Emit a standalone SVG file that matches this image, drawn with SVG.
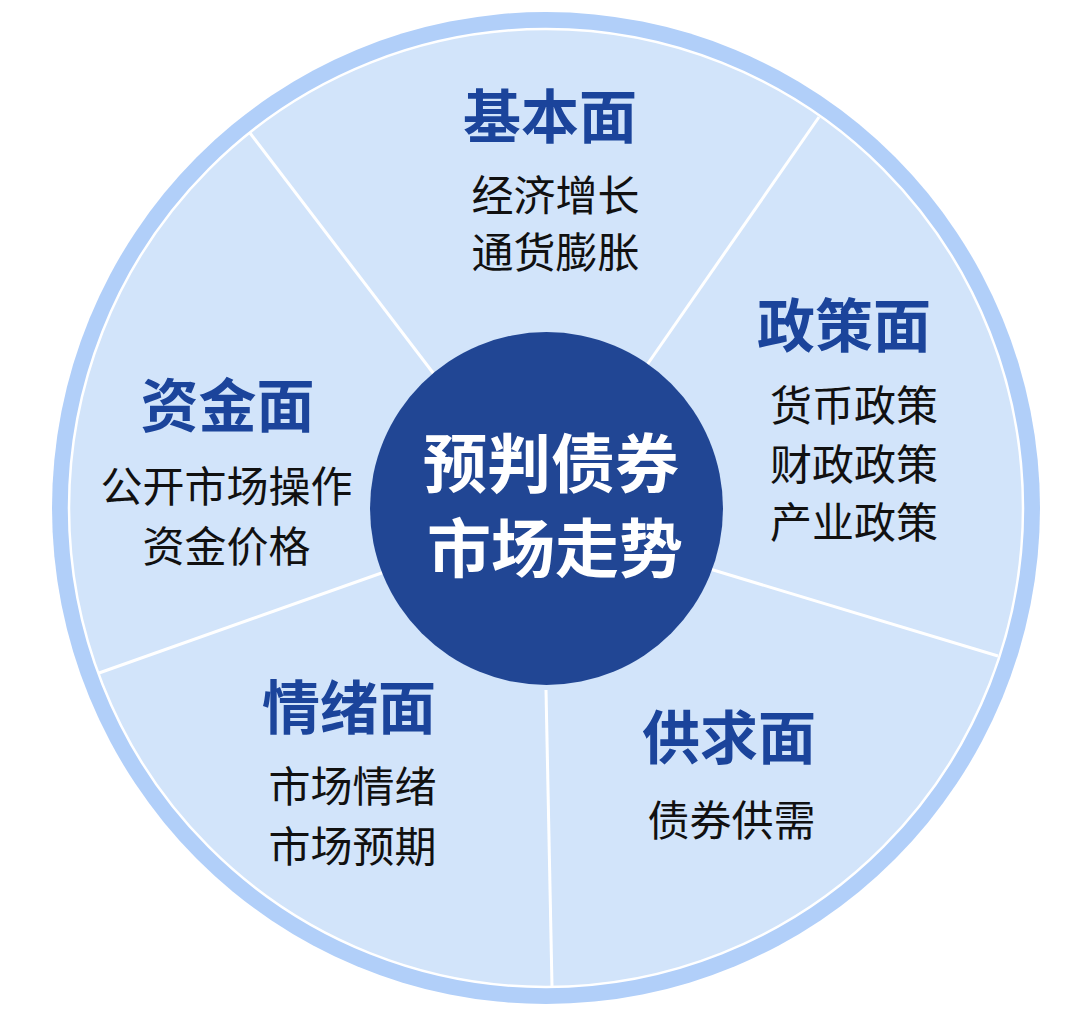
<svg xmlns="http://www.w3.org/2000/svg" width="1080" height="1013" viewBox="0 0 1080 1013">
<style>
.t{font-family:"Noto Sans CJK SC","Noto Sans",sans-serif;font-weight:700;font-size:58px;fill:#1b449b;text-anchor:middle}
.s{font-family:"Noto Sans CJK SC","Noto Sans",sans-serif;font-weight:400;font-size:42px;fill:#111;text-anchor:middle}
.c{font-family:"Noto Sans CJK SC","Noto Sans",sans-serif;font-weight:700;font-size:64px;fill:#fff;text-anchor:middle}
.div{stroke:#fff;stroke-width:3;fill:none}
</style>
<rect width="1080" height="1013" fill="#fff"/>
<g id="wheel">
<ellipse cx="546" cy="508" rx="494" ry="496" fill="#b1cff9"/>
<ellipse cx="546" cy="508" rx="477" ry="479" fill="#d2e4fa" stroke="#fff" stroke-width="2.5"/>
</g>
<g id="connectors">
<line class="div" x1="250" y1="133" x2="440" y2="382"/>
<line class="div" x1="819" y1="117" x2="640" y2="375"/>
<line class="div" x1="998" y1="656" x2="700" y2="566"/>
<line class="div" x1="552" y1="986" x2="546" y2="690"/>
<line class="div" x1="99" y1="673" x2="390" y2="570"/>
</g>
<g id="center">
<circle cx="546.5" cy="508.5" r="176.5" fill="#214694"/>
<text class="c" x="551" y="487">预判债券</text>
<text class="c" x="555" y="572">市场走势</text>
</g>
<g id="fundamental">
<text class="t" x="550" y="138">基本面</text>
<text class="s" x="555.5" y="211">经济增长</text>
<text class="s" x="555.5" y="268">通货膨胀</text>
</g>
<g id="policy">
<text class="t" x="844" y="347">政策面</text>
<text class="s" x="854" y="421">货币政策</text>
<text class="s" x="854" y="480">财政政策</text>
<text class="s" x="854" y="538">产业政策</text>
</g>
<g id="funding">
<text class="t" x="227.5" y="427">资金面</text>
<text class="s" x="226.5" y="502">公开市场操作</text>
<text class="s" x="226.5" y="562">资金价格</text>
</g>
<g id="sentiment">
<text class="t" x="349" y="729">情绪面</text>
<text class="s" x="352.5" y="802">市场情绪</text>
<text class="s" x="352.5" y="862">市场预期</text>
</g>
<g id="supply">
<text class="t" x="729" y="759">供求面</text>
<text class="s" x="731.5" y="836">债券供需</text>
</g>
</svg>
